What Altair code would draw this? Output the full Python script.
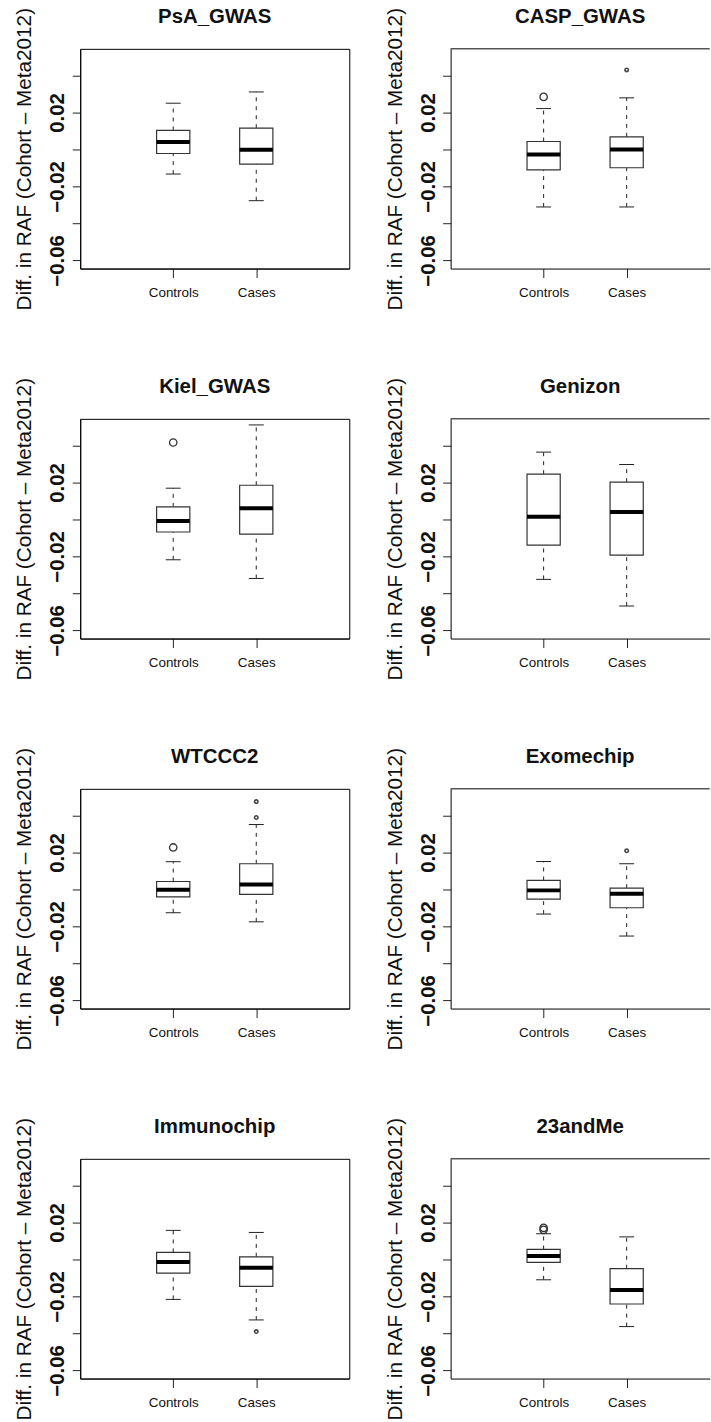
import altair as alt
import pandas as pd

# Cohorts, in reading order (two per row)
panels = ["PsA_GWAS", "CASP_GWAS", "Kiel_GWAS", "Genizon",
          "WTCCC2", "Exomechip", "Immunochip", "23andMe"]
groups = ["Controls", "Cases"]

# Box-plot statistics: lower whisker, Q1, median, Q3, upper whisker
ctrl_lo = [-0.0133, -0.0311, -0.0218, -0.0324, -0.0126, -0.0133, -0.0216, -0.0110]
ctrl_q1 = [-0.0022, -0.0110, -0.0068, -0.0139, -0.0040, -0.0052, -0.0074, -0.0016]
ctrl_med = [0.0040, -0.0027, -0.0009, 0.0014, -0.0002, -0.0005, -0.0014, 0.0018]
ctrl_q3 = [0.0103, 0.0043, 0.0068, 0.0245, 0.0043, 0.0049, 0.0038, 0.0054]
ctrl_hi = [0.0250, 0.0221, 0.0169, 0.0364, 0.0150, 0.0151, 0.0157, 0.0139]

case_lo = [-0.0277, -0.0311, -0.0319, -0.0468, -0.0175, -0.0252, -0.0327, -0.0363]
case_q1 = [-0.0079, -0.0099, -0.0079, -0.0193, -0.0027, -0.0099, -0.0146, -0.0241]
case_med = [-0.0002, 0.0000, 0.0061, 0.0040, 0.0027, -0.0023, -0.0045, -0.0165]
case_q3 = [0.0115, 0.0068, 0.0185, 0.0202, 0.0139, 0.0007, 0.0014, -0.0050]
case_hi = [0.0311, 0.0279, 0.0511, 0.0297, 0.0351, 0.0139, 0.0146, 0.0122]

# Outlying points
out_panel = ["CASP_GWAS", "CASP_GWAS", "Kiel_GWAS", "WTCCC2", "WTCCC2", "WTCCC2",
             "Exomechip", "Immunochip", "23andMe", "23andMe"]
out_group = ["Controls", "Cases", "Controls", "Controls", "Cases", "Cases",
             "Cases", "Cases", "Controls", "Controls"]
out_value = [0.0284, 0.0430, 0.0416, 0.0227, 0.0475, 0.0389,
             0.0209, -0.0390, 0.0171, 0.0160]

Y_DOMAIN = [-0.0644, 0.0544]
Y_TICKS = [-0.06, -0.04, -0.02, 0.0, 0.02, 0.04]
FONT = "Liberation Sans"
BOX_HALF = 0.2
CAP_HALF = 0.09
PLOT_H = 220.5


def make_panel(i, right):
    name = panels[i]
    stats = {
        "Controls": (ctrl_lo[i], ctrl_q1[i], ctrl_med[i], ctrl_q3[i], ctrl_hi[i]),
        "Cases": (case_lo[i], case_q1[i], case_med[i], case_q3[i], case_hi[i]),
    }
    rows = []
    for pos, g in enumerate(groups, start=1):
        lo, q1, med, q3, hi = stats[g]
        rows.append(dict(group=g, pos=pos, lo=lo, q1=q1, med=med, q3=q3, hi=hi,
                         bl=pos - BOX_HALF, br=pos + BOX_HALF,
                         cl=pos - CAP_HALF, cr=pos + CAP_HALF))
    df = pd.DataFrame(rows)
    pts = pd.DataFrame([
        dict(group=g, pos=groups.index(g) + 1, value=v)
        for p, g, v in zip(out_panel, out_group, out_value) if p == name
    ])

    width = 260 if right else 270
    xdom = [-0.12, 3.0] if right else [-0.12, 3.12]
    xs = alt.Scale(domain=xdom, nice=False, zero=False)
    ys = alt.Scale(domain=Y_DOMAIN, nice=False, zero=False)

    xaxis = alt.Axis(values=[1, 2], labelExpr="datum.value == 1 ? 'Controls' : 'Cases'",
                     title=None, grid=False, tickSize=9, tickColor="#222",
                     domain=True, domainColor="black", labelFont=FONT,
                     labelFontSize=13.5, labelColor="#111", labelBaseline="alphabetic",
                     labelPadding=19.5, labelFlush=False)
    yaxis = alt.Axis(values=Y_TICKS, format=".2f",
                     labelExpr="abs(round(datum.value * 100)) % 4 == 2 ? datum.label : ''",
                     title="Diff. in RAF (Cohort \u2013 Meta2012)", grid=False,
                     tickSize=8, tickColor="#222", domain=True, domainColor="black",
                     labelFont=FONT, labelFontSize=20.5, labelFontWeight="bold",
                     labelColor="#111", labelAngle=270, labelAlign="center",
                     labelBaseline="alphabetic", labelPadding=8.5, labelFlush=False,
                     labelOverlap=False,
                     titleFont=FONT, titleFontSize=20.8, titleFontWeight="normal",
                     titleColor="#111", titleX=-45.5, titleY=PLOT_H / 2,
                     titleAngle=270, titleBaseline="bottom", titleAlign="center")

    base = alt.Chart(df)
    whisk_hi = base.mark_rule(color="#222", strokeWidth=1, strokeDash=[4, 5]).encode(
        x=alt.X("pos:Q", scale=xs, axis=xaxis),
        y=alt.Y("q3:Q", scale=ys, axis=yaxis), y2="hi:Q")
    whisk_lo = base.mark_rule(color="#222", strokeWidth=1, strokeDash=[4, 5]).encode(
        x="pos:Q", y="lo:Q", y2="q1:Q")
    cap_hi = base.mark_rule(color="#222", strokeWidth=1).encode(
        x="cl:Q", x2="cr:Q", y="hi:Q")
    cap_lo = base.mark_rule(color="#222", strokeWidth=1).encode(
        x="cl:Q", x2="cr:Q", y="lo:Q")
    box = base.mark_rect(fill="white", stroke="#333", strokeWidth=1.2).encode(
        x="bl:Q", x2="br:Q", y="q1:Q", y2="q3:Q")
    median = base.mark_rule(color="black", strokeWidth=4).encode(
        x="bl:Q", x2="br:Q", y="med:Q")

    layers = [whisk_hi, whisk_lo, cap_hi, cap_lo, box, median]
    if len(pts):
        pbase = alt.Chart(pts)
        ctrl_pts = pbase.transform_filter("datum.group == 'Controls'").mark_point(
            shape="circle", filled=False, size=55, strokeWidth=1.3, color="#333",
            opacity=1).encode(x="pos:Q", y="value:Q")
        case_pts = pbase.transform_filter("datum.group == 'Cases'").mark_point(
            shape="circle", filled=False, size=12, strokeWidth=1.6, color="#444",
            opacity=1).encode(x="pos:Q", y="value:Q")
        layers += [ctrl_pts, case_pts]

    if right:
        # open frame: top edge of the plot region (right edge falls off the page)
        frame = pd.DataFrame([dict(x0=xdom[0], x1=xdom[1], ytop=Y_DOMAIN[1])])
        top_edge = alt.Chart(frame).mark_rule(color="black", strokeWidth=1).encode(
            x="x0:Q", x2="x1:Q", y="ytop:Q")
        layers.append(top_edge)
        view = alt.ViewBackground(stroke="transparent")
    else:
        view = alt.ViewBackground(stroke="black", strokeWidth=1)

    return alt.layer(*layers).properties(
        width=width, height=PLOT_H, view=view,
        title=alt.TitleParams(name, font=FONT, fontSize=20.5, fontWeight="bold",
                              color="#111", anchor="middle", baseline="alphabetic",
                              offset=-36),
    )


charts = []
for r in range(4):
    charts.append(make_panel(2 * r, False))
    charts.append(make_panel(2 * r + 1, True))

chart = alt.concat(*charts, columns=2, spacing={"row": 150.3, "column": 101.7},
                   bounds="flush", align="all").properties(
    padding={"left": 12.5, "top": 3.5, "right": 0, "bottom": 0},
    background="white",
).configure_view(stroke="black", strokeWidth=1)

chart.save("out.html", embed_options={"renderer": "svg", "actions": False})
